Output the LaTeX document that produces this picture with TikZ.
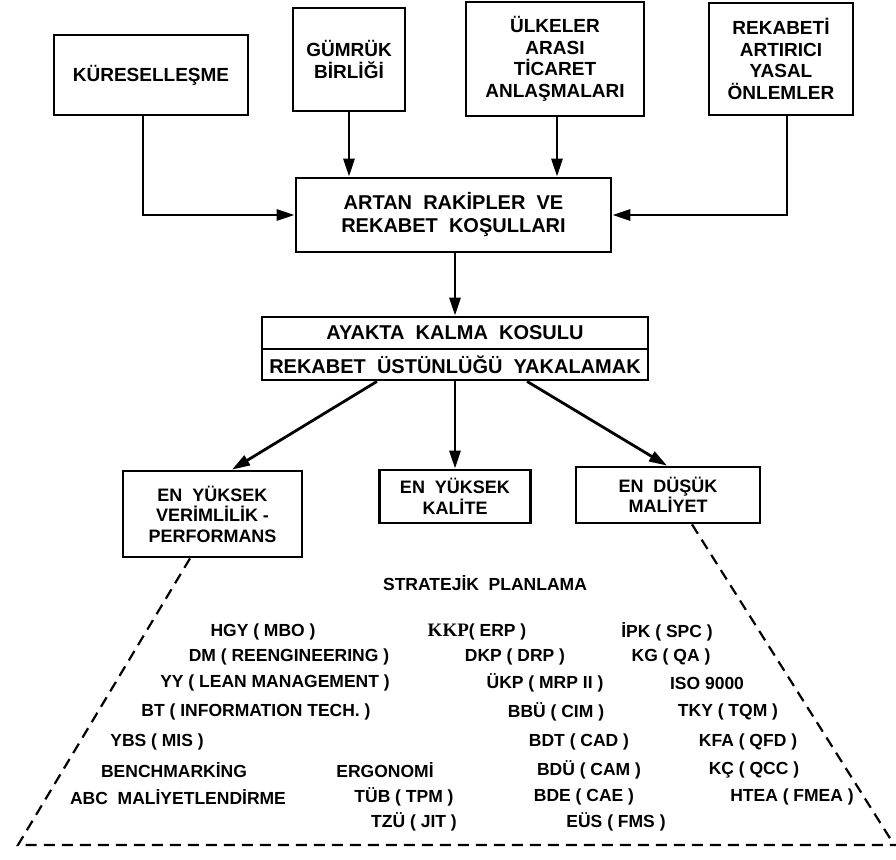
\documentclass[tikz,border=0pt]{standalone}
\usepackage{fontspec}
\setmainfont{Liberation Sans}
\newfontfamily\kkpfont{Liberation Serif}
\usetikzlibrary{arrows.meta}
\begin{document}
\begin{tikzpicture}[x=1pt,y=-1pt,
  box/.style={draw, line width=2.8pt, align=center, inner sep=0pt,
    font=\bfseries\fontsize{19}{21.7}\selectfont},
  lowbox/.style={box, font=\bfseries\fontsize{18}{20.5}\selectfont},
  midbox/.style={box, font=\bfseries\fontsize{20}{23}\selectfont},
  arr/.style={line width=2.8pt, -{Triangle[length=18pt,width=11pt]}},
  dashln/.style={line width=2.2pt, dash pattern=on 11pt off 7pt},
  tri/.style={inner sep=0pt, font=\bfseries\fontsize{17.5}{20}\selectfont}
]
\fill[white] (0,0) rectangle (896,859);
\useasboundingbox (0,0) rectangle (896,859);

% top boxes
\node[box, minimum width=194pt, minimum height=80pt] (kure) at (151,75) {KÜRESELLEŞME};
\node[box, minimum width=112pt, minimum height=103pt, text depth=-6pt] (gumruk) at (349,59.5) {GÜMRÜK\\BİRLİĞİ};
\node[box, minimum width=178pt, minimum height=114pt] (ulke) at (555,59) {ÜLKELER\\ARASI\\TİCARET\\ANLAŞMALARI};
\node[box, minimum width=144pt, minimum height=112pt] (rekabeti) at (781,59) {REKABETİ\\ARTIRICI\\YASAL\\ÖNLEMLER};

% middle
\node[midbox, minimum width=315pt, minimum height=74pt] (artan) at (453.5,215) {ARTAN\ \ RAKİPLER\ \ VE\\REKABET\ \ KOŞULLARI};
\node[midbox, minimum width=386pt, minimum height=32pt] (ay1) at (455,333) {AYAKTA\ \ KALMA\ \ KOSULU};
\node[midbox, minimum width=386pt, minimum height=31pt] (ay2) at (455,364.5) {REKABET\ \ ÜSTÜNLÜĞÜ\ \ YAKALAMAK};

% lower boxes
\node[lowbox, minimum width=179pt, minimum height=86pt] (verim) at (212.5,514) {EN\ \ YÜKSEK\\VERİMLİLİK -\\PERFORMANS};
\node[lowbox, minimum width=151pt, minimum height=53pt] (kalite) at (455,496.5) {EN\ \ YÜKSEK\\KALİTE};
\node[lowbox, minimum width=184pt, minimum height=56pt] (dusuk) at (668,495) {EN\ \ DÜŞÜK\\MALİYET};

% arrows
\draw[arr] ([xshift=-8pt]kure.south) |- (artan.west);
\draw[arr] (gumruk.south) -- (gumruk.south |- artan.north);
\draw[arr] ([xshift=2pt]ulke.south) -- ([xshift=2pt]ulke.south |- artan.north);
\draw[arr] ([xshift=6pt]rekabeti.south) |- (artan.east);
\draw[arr] (artan.south -| ay1.north) -- (ay1.north);
\draw[arr] ([xshift=-78pt]ay2.south) -- ([xshift=19.5pt]verim.north);
\draw[arr] (ay2.south) -- (kalite.north);
\draw[arr] ([xshift=72pt]ay2.south) -- ([xshift=-1pt]dusuk.north);

% dashed outline
\coordinate (bl) at (18,845);
\coordinate (br) at (897,845);
\coordinate (rb) at (893,843);
\draw[dashln] ([xshift=-22.5pt]verim.south) -- (bl) -- (br);
\draw[dashln] ([xshift=24pt]dusuk.south) -- (rb);

% texts
\node[tri] (sp) at (485,583) {STRATEJİK\ \ PLANLAMA};
\node[tri] (a1) at (263,632) {HGY ( MBO )};
\node[tri] (a2) at (289,657) {DM ( REENGINEERING )};
\node[tri] (a3) at (275,683) {YY ( LEAN MANAGEMENT )};
\node[tri] (a4) at (256,712) {BT ( INFORMATION TECH. )};
\node[tri] (a5) at (157,742) {YBS ( MIS )};
\node[tri] (a6) at (174,770) {BENCHMARKİNG};
\node[tri] (a7) at (178,797) {ABC\ \ MALİYETLENDİRME};
\node[tri] (e1) at (385,770) {ERGONOMİ};
\node[tri] (e2) at (404,797) {TÜB ( TPM )};
\node[tri] (e3) at (414,822) {TZÜ ( JIT )};
\node[tri] (b1) at (477,632) {{\kkpfont\bfseries\fontsize{19}{20}\selectfont KKP}( ERP )};
\node[tri] (b2) at (515,657) {DKP ( DRP )};
\node[tri] (b3) at (545,683) {ÜKP ( MRP II )};
\node[tri] (b4) at (556,712) {BBÜ ( CIM )};
\node[tri] (b5) at (579,742) {BDT ( CAD )};
\node[tri] (b6) at (589,770) {BDÜ ( CAM )};
\node[tri] (b7) at (584,797) {BDE ( CAE )};
\node[tri] (b8) at (616,822) {EÜS ( FMS )};
\node[tri] (c1) at (667,632) {İPK ( SPC )};
\node[tri] (c2) at (671,657) {KG ( QA )};
\node[tri] (c3) at (707,683) {ISO 9000};
\node[tri] (c4) at (728,712) {TKY ( TQM )};
\node[tri] (c5) at (748,742) {KFA ( QFD )};
\node[tri] (c6) at (754,770) {KÇ ( QCC )};
\node[tri] (c7) at (792,797) {HTEA ( FMEA )};
\end{tikzpicture}
\end{document}
